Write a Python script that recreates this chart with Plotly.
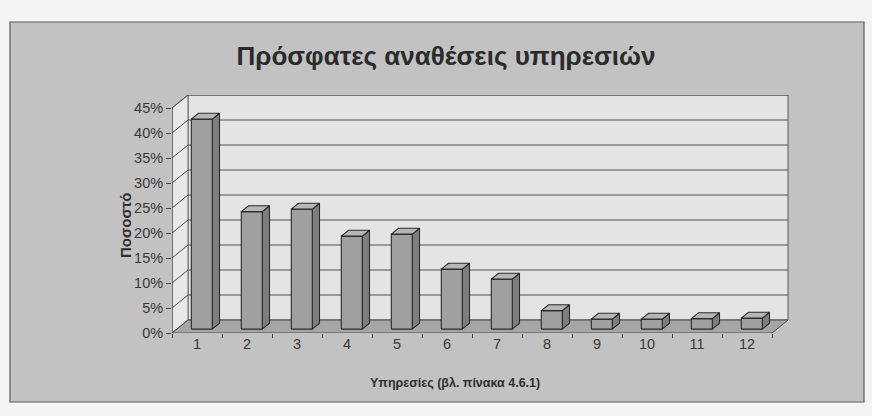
import plotly.graph_objects as go

# ---- data -------------------------------------------------------------
categories = list(range(1, 13))
values = [42.0, 23.5, 24.0, 18.6, 19.0, 12.0, 10.0, 3.7, 2.0, 2.0, 2.1, 2.2]
y_ticks = [0, 5, 10, 15, 20, 25, 30, 35, 40, 45]
y_tick_labels = [f"{v}%" for v in y_ticks]
title_text = "Πρόσφατες αναθέσεις υπηρεσιών"
x_title = "Υπηρεσίες (βλ. πίνακα 4.6.1)"
y_title = "Ποσοστό"

# ---- geometry of the pseudo-3D box (axis units) ------------------------
DX, DY = 0.32, 2.6          # oblique depth offset of the back wall
BAR_W = 0.42                # bar front-face width
BAR_FRONT = 0.3             # where the bar front sits inside the depth
BAR_DEPTH = 0.45            # bar depth as a share of the box depth
X_LO, X_HI = categories[0] - 0.5, categories[-1] + 0.5
Y_TOP = y_ticks[-1]

W, H = 872, 416
L, R, T, B = 172, 83, 95, 83
FONT = "Liberation Sans, Arial, sans-serif"
EDGE = "#2a2a2a"


def ring(pts):
    xs = [p[0] for p in pts] + [pts[0][0], None]
    ys = [p[1] for p in pts] + [pts[0][1], None]
    return xs, ys


def poly_trace(polys, fill, line_color=EDGE, width=1.1):
    xs, ys = [], []
    for p in polys:
        a, b = ring(p)
        xs += a
        ys += b
    return go.Scatter(x=xs, y=ys, mode="lines", fill="toself", fillcolor=fill,
                      line=dict(color=line_color, width=width),
                      hoverinfo="skip", showlegend=False, cliponaxis=False)


def line_trace(xs, ys, color, width=1.0):
    return go.Scatter(x=xs, y=ys, mode="lines", line=dict(color=color, width=width),
                      hoverinfo="skip", showlegend=False, cliponaxis=False)


fig = go.Figure()

# back wall and left side wall
fig.add_trace(poly_trace([[(X_LO + DX, DY), (X_HI + DX, DY),
                           (X_HI + DX, Y_TOP + DY), (X_LO + DX, Y_TOP + DY)]],
                         "#e4e4e4", "#5a5a5a", 1.0))
fig.add_trace(poly_trace([[(X_LO, 0), (X_LO + DX, DY),
                           (X_LO + DX, Y_TOP + DY), (X_LO, Y_TOP)]],
                         "#e8e8e8", "#6a6a6a", 1.0))

# gridlines: diagonal on the side wall, horizontal on the back wall
gx, gy = [], []
for v in y_ticks[1:]:
    gx += [X_LO, X_LO + DX, X_HI + DX, None]
    gy += [v, v + DY, v + DY, None]
fig.add_trace(line_trace(gx, gy, "#505050", 1.0))

# floor
fig.add_trace(poly_trace([[(X_LO, 0), (X_HI, 0), (X_HI + DX, DY), (X_LO + DX, DY)]],
                         "#a6a6a6", "#4a4a4a", 1.0))

# front value axis
fig.add_trace(line_trace([X_LO, X_LO], [0, Y_TOP], "#3a3a3a", 1.0))

# bars: right side, front and top faces
fx, fy = BAR_FRONT * DX, BAR_FRONT * DY
bx, by = BAR_DEPTH * DX, BAR_DEPTH * DY
sides, fronts, tops = [], [], []
for c, v in zip(categories, values):
    x0 = c - BAR_W / 2 + fx
    x1 = c + BAR_W / 2 + fx
    y0 = fy
    y1 = fy + v
    fronts.append([(x0, y0), (x1, y0), (x1, y1), (x0, y1)])
    sides.append([(x1, y0), (x1 + bx, y0 + by), (x1 + bx, y1 + by), (x1, y1)])
    tops.append([(x0, y1), (x1, y1), (x1 + bx, y1 + by), (x0 + bx, y1 + by)])
fig.add_trace(poly_trace(sides, "#7e7e7e"))
fig.add_trace(poly_trace(fronts, "#a0a0a0"))
fig.add_trace(poly_trace(tops, "#b6b6b6"))


def px_x(p):
    return (p - L) / (W - L - R)


def px_y(p):
    return (H - B - p) / (H - T - B)


fig.update_layout(
    width=W, height=H,
    margin=dict(l=L, r=R, t=T, b=B),
    paper_bgcolor="#f4f4f4",
    plot_bgcolor="rgba(0,0,0,0)",
    font=dict(family=FONT, color="#2e2e2e", size=12),
    title=dict(text=f"<b>{title_text}</b>", x=446 / W, xref="container",
               xanchor="center", y=1 - 56 / H, yref="container", yanchor="middle",
               font=dict(family=FONT, size=26, color="#2b2b2b")),
    xaxis=dict(range=[X_LO, X_HI + DX + 0.02], showgrid=False, zeroline=False,
               showline=False, tickvals=categories,
               ticktext=[str(c) for c in categories], ticks="",
               tickfont=dict(size=14.5, color="#383838"),
               minor=dict(tickvals=[c - 0.5 for c in categories] + [X_HI],
                          ticks="outside", ticklen=4, tickcolor="#444",
                          tickwidth=1, showgrid=False)),
    yaxis=dict(range=[0, Y_TOP + DY], showgrid=False, zeroline=False,
               showline=False, tickvals=y_ticks, ticktext=y_tick_labels,
               ticks="outside", ticklen=5, tickcolor="#444",
               tickfont=dict(size=14.5, color="#383838")),
    shapes=[dict(type="rect", xref="paper", yref="paper", layer="below",
                 x0=px_x(10), x1=px_x(864), y0=px_y(402), y1=px_y(22),
                 fillcolor="#c2c2c2", line=dict(color="#5e5e5e", width=1.2))],
    annotations=[
        dict(text=f"<b>{y_title}</b>", xref="paper", yref="paper",
             x=px_x(125), y=px_y(225), textangle=-90, showarrow=False,
             font=dict(family=FONT, size=15, color="#2e2e2e"),
             xanchor="center", yanchor="middle"),
        dict(text=f"<b>{x_title}</b>", xref="paper", yref="paper",
             x=px_x(455), y=px_y(383), showarrow=False,
             font=dict(family=FONT, size=12.5, color="#2e2e2e"),
             xanchor="center", yanchor="middle"),
    ],
)

fig.write_html("out.html")
